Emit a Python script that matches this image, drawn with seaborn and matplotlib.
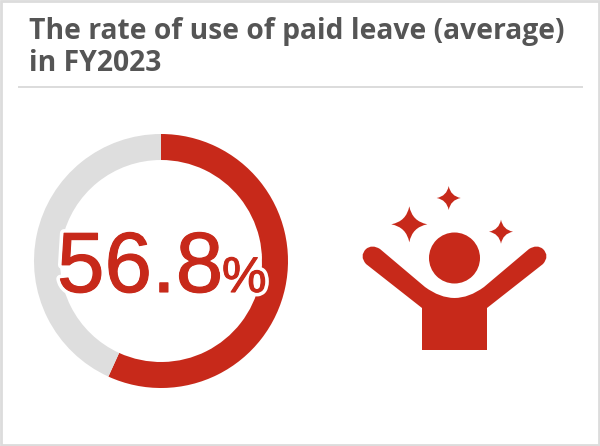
import matplotlib
matplotlib.use("Agg")
import matplotlib.pyplot as plt
import matplotlib.patheffects as pe
from matplotlib.patches import Circle, PathPatch, Rectangle
from matplotlib.path import Path
import seaborn as sns

title_lines = ["The rate of use of paid leave (average)", "in FY2023"]
segments = ["used", "unused"]
values = [56.8, 43.2]
value_label = "56.8"
unit_label = "%"

RED = "#c7291a"
GREY = "#dedede"
TEXT = "#555555"
W, H = 600, 446

sns.set_theme(style="white")
colors = sns.color_palette([RED, GREY])

fig = plt.figure(figsize=(W / 100, H / 100), dpi=100, facecolor="white")

# donut in its own square axes
cx, cy, r = 161, 261, 127
ax_d = fig.add_axes([(cx - r) / W, 1 - (cy + r) / H, 2 * r / W, 2 * r / H])
ax_d.pie(values, labels=None, colors=colors, startangle=90, counterclock=False,
         radius=1, wedgeprops={"width": 26 / r, "linewidth": 0})
ax_d.set_xlim(-1, 1)
ax_d.set_ylim(-1, 1)

# overlay in pixel coordinates
ax = fig.add_axes([0, 0, 1, 1], facecolor="none")
ax.set_xlim(0, W)
ax.set_ylim(H, 0)
ax.axis("off")

# frame and title rule
ax.add_patch(Rectangle((1, 1), W - 2, H - 2, fill=False, ec="#dcdcdc", lw=2))
ax.plot([18, 583], [87, 87], color="#d9d9d9", lw=1.3, solid_capstyle="butt")

for line, y in zip(title_lines, [39, 71]):
    ax.text(29, y, line, fontsize=20.3, fontweight="bold", family="Open Sans",
            color=TEXT, ha="left", va="baseline")

halo = [pe.Stroke(linewidth=6, foreground="white"), pe.Stroke(linewidth=0.8, foreground=RED), pe.Normal()]
ax.text(57, 292, value_label, fontsize=61.5, family="Liberation Sans", color=RED,
        ha="left", va="baseline", path_effects=halo)
ax.text(222, 292, unit_label, fontsize=36, family="Liberation Sans", color=RED,
        ha="left", va="baseline", path_effects=halo)


def star(x, y, s):
    k = 0.16 * s
    pts = [(x, y - s), (x + k, y - k), (x + s, y), (x + k, y + k), (x, y + s),
           (x - k, y + k), (x - s, y), (x - k, y - k), (x, y - s)]
    codes = [Path.MOVETO] + [Path.CURVE3] * 8
    return PathPatch(Path(pts, codes), fc=RED, ec="none")


for x, y, s in [(409.3, 224.3, 18), (448.7, 198, 12), (501, 231.7, 12)]:
    ax.add_patch(star(x, y, s))

# person icon
ax.add_patch(Circle((454.5, 258), 25.5, fc=RED, ec="none"))
body = [
    (422, 350), (422, 308), (366, 264),
    (359, 256), (366, 249), (372, 244), (380, 249),
    (425, 287), (440, 298), (454.5, 298), (469, 298), (484, 287),
    (529, 249), (537, 244), (543, 249), (550, 256), (543, 264),
    (487, 308), (487, 350), (422, 350),
]
codes = [
    Path.MOVETO, Path.LINETO, Path.LINETO,
    Path.CURVE3, Path.CURVE3, Path.CURVE3, Path.CURVE3,
    Path.LINETO, Path.CURVE3, Path.CURVE3, Path.CURVE3, Path.CURVE3,
    Path.LINETO, Path.CURVE3, Path.CURVE3, Path.CURVE3, Path.CURVE3,
    Path.LINETO, Path.LINETO, Path.CLOSEPOLY,
]
ax.add_patch(PathPatch(Path(body, codes), fc=RED, ec="none"))

fig.savefig("out.png", dpi=100, facecolor="white")
